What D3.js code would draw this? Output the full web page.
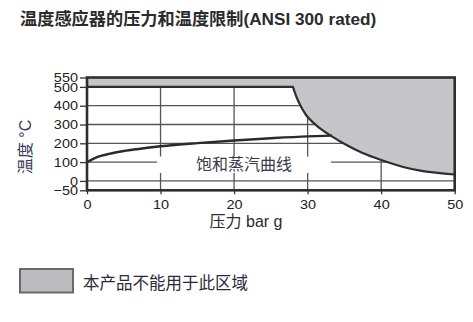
<!DOCTYPE html>
<html><head><meta charset="utf-8">
<script src="https://cdn.jsdelivr.net/npm/d3@7"></script>
<style>
body{margin:0;background:#fff;}
text{font-family:"Liberation Sans","Noto Sans CJK SC",sans-serif;}
</style></head>
<body><svg id="c" width="473" height="322"></svg>
<script>
const title = "温度感应器的压力和温度限制(ANSI 300 rated)";
const xTicks = [0,10,20,30,40,50];
const yTicks = [-50,0,100,200,300,400,500,550];
const gridY = [0,100,200,300,400];
const gridX = [10,20,30,40];
// saturation steam curve: pressure (bar g) -> temperature (°C)
const satP = [0,1,2,3,5,7,10,15,20,25,30,33.3];
const satT = [100,120,134,144,159,170,184,201,215,227,237,241];
// limit curve boundary
const limitTop = 500;
const limP = [28.0,28.5,29.0,29.6,30.0,31.5,33.3,35.1,37.4,40.1,43.0,45.7,50];
const limT = [500,445,403,362,340,285,237,195,150,110,74,52,34];
const yLabel = "温度 °C";
const xLabel = "压力 bar g";
const satLabel = "饱和蒸汽曲线";
const legendLabel = "本产品不能用于此区域";

const svg = d3.select("#c");
const x = d3.scaleLinear().domain([0,50]).range([87,454.7]);
const y = d3.scaleLinear().domain([-50,550]).range([190.3,77.5]);

svg.append("text").attr("x",20).attr("y",25).attr("font-size",17.2).attr("font-weight","bold")
  .attr("fill","#2b2b2b").attr("font-family","'Noto Sans CJK SC','Liberation Sans',sans-serif").text(title);

const g = svg.append("g");
// grid
g.selectAll(".gy").data(gridY).enter().append("line")
  .attr("x1",x(0)).attr("x2",x(50)).attr("y1",d=>y(d)).attr("y2",d=>y(d))
  .attr("stroke","#555").attr("stroke-width",1.3);
g.selectAll(".gx").data(gridX).enter().append("line")
  .attr("y1",y(-50)).attr("y2",y(550)).attr("x1",d=>x(d)).attr("x2",d=>x(d))
  .attr("stroke","#555").attr("stroke-width",1.3);

// forbidden region
const curve = d3.line().x(d=>x(d[0])).y(d=>y(d[1])).curve(d3.curveCatmullRom.alpha(0.5));
const limPts = limP.map((p,i)=>[p,limT[i]]);
const curvePart = curve(limPts);
const boundaryPath = "M"+x(0)+","+y(limitTop)+"L"+curvePart.slice(1);
g.append("path")
  .attr("d", "M"+x(0)+","+y(550)+"L"+boundaryPath.slice(1)+"L"+x(50)+","+y(550)+"Z")
  .attr("fill","#c6c5ca").attr("stroke","none");
g.append("path").attr("d",boundaryPath).attr("fill","none").attr("stroke","#2e2e2e").attr("stroke-width",2.2);

// saturation curve
const satLine = d3.line().x(d=>x(d[0])).y(d=>y(d[1])).curve(d3.curveMonotoneX);
g.append("path").datum(satP.map((p,i)=>[p,satT[i]]))
  .attr("d",satLine).attr("fill","none").attr("stroke","#2a2a2a").attr("stroke-width",2.4);

// label with white background
g.append("rect").attr("x",157).attr("y",156.5).attr("width",174).attr("height",16.5).attr("fill","#fff");
g.append("text").attr("x",244).attr("y",169.5).attr("text-anchor","middle").attr("font-size",16)
  .attr("fill","#3a3a48").attr("font-family","'Noto Sans CJK SC',sans-serif").text(satLabel);

// frame
g.append("rect").attr("x",x(0)).attr("y",y(550)).attr("width",x(50)-x(0)).attr("height",y(-50)-y(550))
  .attr("fill","none").attr("stroke","#2e2e2e").attr("stroke-width",2.6);

// axes
const yAxis = d3.axisLeft(y).tickValues(yTicks).tickSize(7).tickPadding(1);
const ya = svg.append("g").attr("transform",`translate(${x(0)},0)`).call(yAxis);
ya.select(".domain").remove();
ya.selectAll("line").attr("stroke","#333").attr("stroke-width",1.3);
ya.selectAll("text").attr("font-size",12.8).attr("fill","#222").attr("transform","scale(1.13,1)")
  .attr("font-family","'Liberation Sans',sans-serif");

const xAxis = d3.axisBottom(x).tickValues(xTicks).tickSize(4).tickPadding(5.8);
const xa = svg.append("g").attr("transform",`translate(0,${y(-50)})`).call(xAxis);
xa.select(".domain").remove();
xa.selectAll("line").attr("stroke","#333").attr("stroke-width",1.3);
xa.selectAll("text").attr("font-size",12.8).attr("fill","#222").attr("transform","scale(1.13,1)")
  .attr("font-family","'Liberation Sans',sans-serif");

svg.append("text").attr("x",246).attr("y",227).attr("text-anchor","middle").attr("font-size",16)
  .attr("fill","#2a2a3a").attr("font-family","'Noto Sans CJK SC','Liberation Sans',sans-serif").text(xLabel);

svg.append("text").attr("transform","translate(31,147) rotate(-90)").attr("text-anchor","middle")
  .attr("font-size",16).attr("fill","#3a3a5a").attr("font-family","'Noto Sans CJK SC','Liberation Sans',sans-serif").text(yLabel);

// legend
svg.append("rect").attr("x",20).attr("y",269).attr("width",53).attr("height",23.5)
  .attr("fill","#bcbbc0").attr("stroke","#6a6a6a").attr("stroke-width",2);
svg.append("text").attr("x",83).attr("y",289).attr("font-size",16.5)
  .attr("fill","#2a2a3a").attr("font-family","'Noto Sans CJK SC',sans-serif").text(legendLabel);
</script></body></html>
